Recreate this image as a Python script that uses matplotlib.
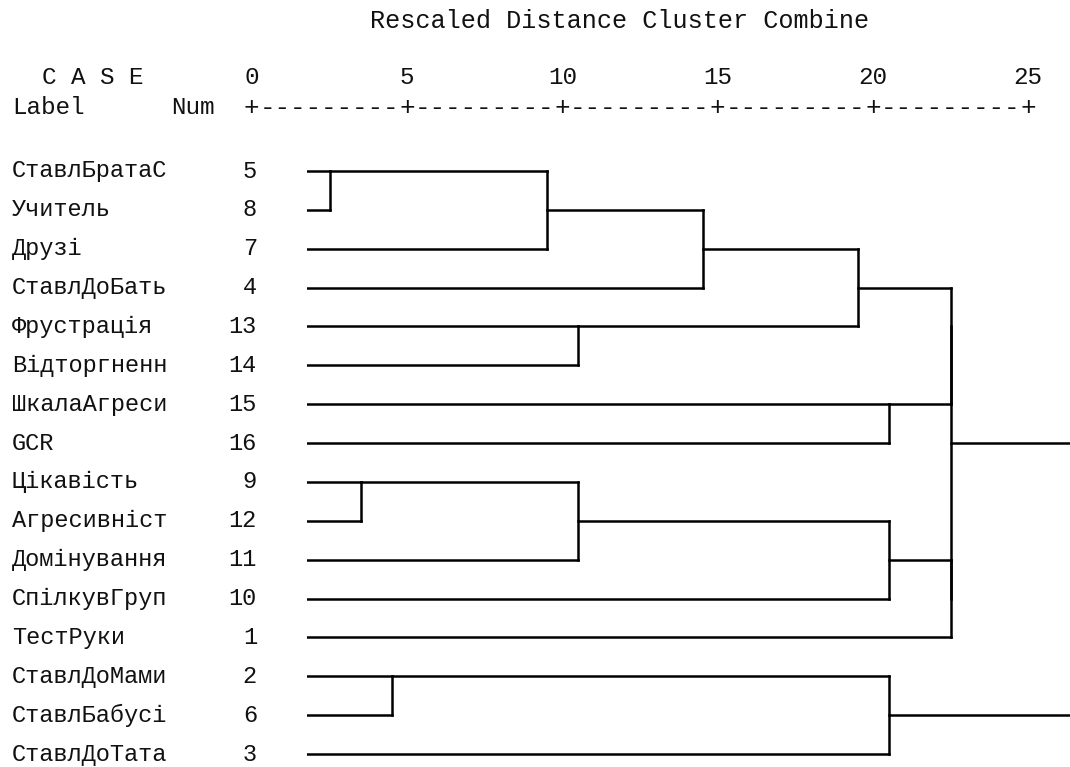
import matplotlib
matplotlib.use("Agg")
import matplotlib.pyplot as plt
from matplotlib.transforms import blended_transform_factory

# ---------------- data ----------------
labels = ["СтавлБратаС", "Учитель", "Друзі", "СтавлДоБать", "Фрустрація",
          "Відторгненн", "ШкалаАгреси", "GCR", "Цікавість", "Агресивніст",
          "Домінування", "СпілкувГруп", "ТестРуки", "СтавлДоМами",
          "СтавлБабусі", "СтавлДоТата"]
case_nums = [5, 8, 7, 4, 13, 14, 15, 16, 9, 12, 11, 10, 1, 2, 6, 3]

# agglomeration steps: (cluster A, cluster B) and rescaled distance
merge_a = [5, 9, 2, 5, 13, 9, 5, 5, 15, 9, 2, 5, 9, 5, 5]
merge_b = [8, 12, 6, 7, 14, 11, 4, 13, 16, 10, 3, 15, 1, 9, 2]
merge_dist = [0.75, 1.75, 2.75, 7.75, 8.75, 8.75, 12.75, 17.75, 18.75,
              18.75, 18.75, 20.75, 20.75, 20.75, 25.0]

scale_ticks = [0, 5, 10, 15, 20, 25]
title = "Rescaled Distance Cluster Combine"

# ---------------- layout ----------------
W, H = 1070, 767
FONT = ["Liberation Mono", "DejaVu Sans Mono"]
plt.rcParams["font.family"] = FONT

fig = plt.figure(figsize=(W / 100, H / 100), dpi=100)
fig.patch.set_facecolor("white")

def fx(px):
    return px / W

def fy(py):
    return 1 - py / H

ROW0_PX, ROW_PX = 171.0, 38.87
BODY_TOP = 150.0
BODY_X0, UNIT_PX = 306.5, 31.06
HEAD_X0 = 251.7

# body axes: x = rescaled distance, y = row index
ax = fig.add_axes([fx(BODY_X0), 0, 25 * UNIT_PX / W, (H - BODY_TOP) / H])
ax.set_xlim(0, 25)
ax.set_ylim((H - ROW0_PX) / ROW_PX, (BODY_TOP - ROW0_PX) / ROW_PX)
ax.axis("off")

# dendrogram lines
row_of = {c: i for i, c in enumerate(case_nums)}
x_of = {c: 0.0 for c in case_nums}
lw = 1.8
for a, b, h in zip(merge_a, merge_b, merge_dist):
    ra, rb = row_of[a], row_of[b]
    ax.plot([x_of[a], h], [ra, ra], color="black", lw=lw, solid_capstyle="projecting")
    ax.plot([x_of[b], h], [rb, rb], color="black", lw=lw, solid_capstyle="projecting")
    ax.plot([h, h], [ra, rb], color="black", lw=lw, solid_capstyle="projecting")
    row_of[a] = (ra + rb) // 2
    x_of[a] = h

# case labels and numbers
trans = blended_transform_factory(fig.transFigure, ax.transData)
for i, (lab, num) in enumerate(zip(labels, case_nums)):
    ax.text(fx(12), i, lab, transform=trans, ha="left", va="center",
            fontsize=17, color="#111111")
    ax.text(fx(257), i, str(num), transform=trans, ha="right", va="center",
            fontsize=17, color="#111111")

# header axes: x = rescaled distance scale
hax = fig.add_axes([fx(HEAD_X0), fy(BODY_TOP), 25 * UNIT_PX / W, BODY_TOP / H])
hax.set_xlim(0, 25)
hax.set_ylim(BODY_TOP, 0)
hax.axis("off")
for t in scale_ticks:
    hax.text(t, 77, str(t), ha="center", va="center", fontsize=17.5, color="#111111")
    hax.text(t, 108, "+", ha="center", va="center", fontsize=18.6, color="#111111")
for t0, t1 in zip(scale_ticks[:-1], scale_ticks[1:]):
    hax.text((t0 + t1) / 2, 108, "-" * 9, ha="center", va="center",
             fontsize=18.6, color="#111111")

fig.text(fx(42), fy(77), "C A S E", ha="left", va="center", fontsize=17.5, color="#111111")
fig.text(fx(12), fy(108), "Label", ha="left", va="center", fontsize=17.5, color="#111111")
fig.text(fx(215), fy(108), "Num", ha="right", va="center", fontsize=17.5, color="#111111")
fig.text(fx(370), fy(21), title, ha="left", va="center", fontsize=18.1, color="#111111")

fig.savefig("out.png", dpi=100, facecolor="white")
